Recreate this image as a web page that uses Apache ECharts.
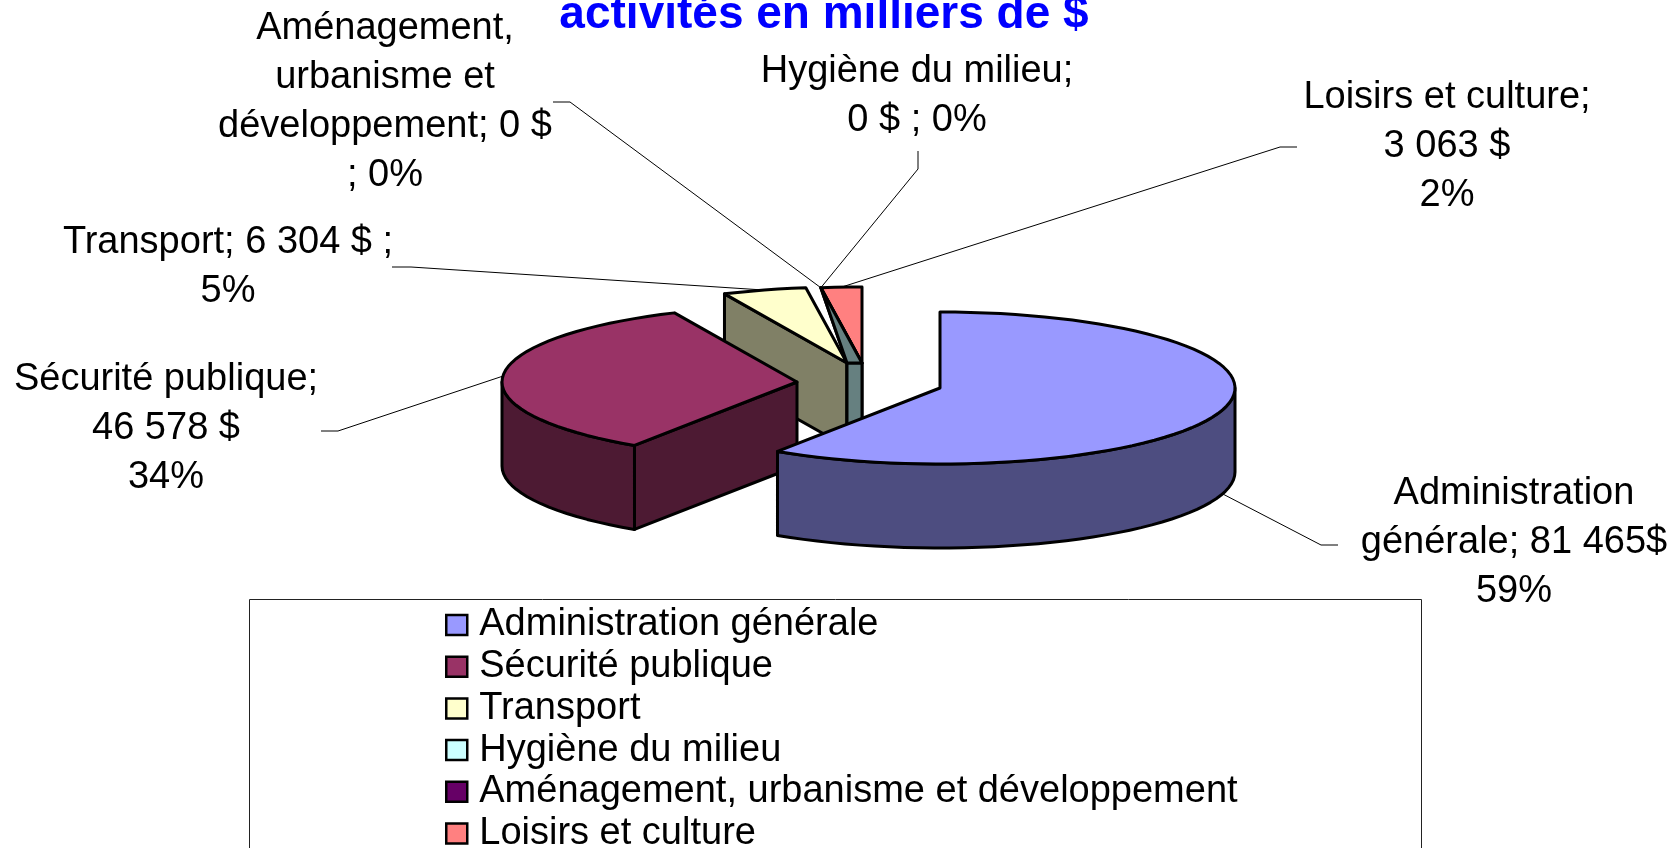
<!DOCTYPE html>
<html>
<head>
<meta charset="utf-8">
<style>
  html, body { margin: 0; height: 100%; background: #fff; overflow: hidden; }
  #chart { width: 1676px; height: 848px; }
</style>
<script src="https://cdn.jsdelivr.net/npm/echarts@6/dist/echarts.min.js"></script>
</head>
<body>
<div id="chart"></div>
<script>
const categories = ['Administration générale', 'Sécurité publique', 'Transport', 'Hygiène du milieu', 'Aménagement, urbanisme et développement', 'Loisirs et culture']
const amounts = [81465, 46578, 6304, 0, 0, 3063]
const dataLabels = [
  'Administration\ngénérale; 81 465$\n59%',
  'Sécurité publique;\n46 578 $\n34%',
  'Transport; 6 304 $ ;\n5%',
  'Hygiène du milieu;\n0 $ ; 0%',
  'Aménagement,\nurbanisme et\ndéveloppement; 0 $\n; 0%',
  'Loisirs et culture;\n3 063 $\n2%',
]
const topColors = ['#9999ff', '#993366', '#ffffcc', '#ccffff', '#660066', '#ff8080']
const wallColors = ['#4d4d80', '#4d1a33', '#808066', '#668080', '#330033', '#804040']

// exploded slice centres and label placement, in page pixels
const centers = [[940, 388], [797, 382], [847, 363], [854, 363], [854, 363], [862, 363]]
const labelAt = [[1514, 543], [166, 429], [228, 267], [917, 96], [385, 102], [1447, 147]]
const elbows = [
  [[1338, 545], [1321, 545]],
  [[321, 431], [338, 431]],
  [[392, 267], [411, 267]],
  [[918, 151], [918, 169]],
  [[553, 102], [570, 102]],
  [[1297, 147], [1280, 147]],
]
const rx = 295
const ry = 76
const depth = 84
const drawOrder = [5, 2, 4, 3, 1, 0]

const total = amounts.reduce((a, b) => a + b, 0)
const toRad = (deg) => (deg * Math.PI) / 180

const angleRange = (idx) => {
  let before = 0
  for (let i = 0; i < idx; i++) before += amounts[i]
  return [(before / total) * 360, ((before + amounts[idx]) / total) * 360]
}

const rimPoint = (c, deg) => [c[0] + rx * Math.sin(toRad(deg)), c[1] - ry * Math.cos(toRad(deg))]
const drop = (p) => [p[0], p[1] + depth]

const arcPoints = (c, from, to) => {
  const pts = []
  const steps = Math.max(1, Math.ceil((to - from) / 3))
  for (let i = 0; i <= steps; i++) pts.push(rimPoint(c, from + ((to - from) * i) / steps))
  return pts
}

const face = (points, fill) => ({
  type: 'polygon',
  shape: { points },
  style: { fill, stroke: '#000', lineWidth: 3, lineJoin: 'round' },
})

const sliceFaces = (idx) => {
  const [a0, a1] = angleRange(idx)
  const c = centers[idx]
  const out = []
  if (amounts[idx] === 0) {
    // empty slices only show as a sliver between the neighbouring wedges
    const prev = centers[2]
    const next = centers[5]
    const tip = rimPoint(next, a0)
    out.push(face([prev, next, drop(next), drop(prev)], wallColors[idx]))
    out.push(face([prev, tip, next], wallColors[idx]))
    return out
  }
  // the cut face after an empty slice stays behind that sliver
  if (a0 >= 180 && amounts[idx - 1] > 0) {
    const rim = rimPoint(c, a0)
    out.push(face([c, rim, drop(rim), drop(c)], wallColors[idx]))
  }
  const frontFrom = Math.max(a0, 90)
  const frontTo = Math.min(a1, 270)
  if (frontTo > frontFrom) {
    const arc = arcPoints(c, frontFrom, frontTo)
    out.push(face(arc.concat(arc.map(drop).reverse()), wallColors[idx]))
  }
  out.push(face([c].concat(arcPoints(c, a0, a1)), topColors[idx]))
  return out
}

const leaderEnd = (idx) => {
  const [a0, a1] = angleRange(idx)
  const mid = (a0 + a1) / 2
  const base = amounts[idx] === 0 ? centers[5] : centers[idx]
  const p = rimPoint(base, mid)
  return mid > 90 && mid < 270 ? drop(p) : p
}

const renderSlice = (idx) => () => ({
  type: 'group',
  children: [
    ...sliceFaces(idx),
    {
      type: 'polyline',
      shape: { points: [...elbows[idx], leaderEnd(idx)] },
      style: { fill: 'none', stroke: '#000', lineWidth: 1 },
    },
    {
      type: 'text',
      style: {
        text: dataLabels[idx],
        x: labelAt[idx][0],
        y: labelAt[idx][1],
        align: 'center',
        verticalAlign: 'middle',
        fill: '#000',
        font: '38px "Liberation Sans"',
        lineHeight: 49,
      },
    },
  ],
})

const chart = echarts.init(document.getElementById('chart'))
chart.setOption({
  animation: false,
  backgroundColor: '#fff',
  title: {
    text: 'activités en milliers de $',
    left: 824,
    textAlign: 'center',
    top: -8,
    padding: 0,
    textStyle: { color: '#0000ff', fontSize: 46, fontWeight: 'bold', fontFamily: 'Liberation Sans' },
  },
  legend: {
    data: categories,
    orient: 'vertical',
    left: 445,
    top: 606,
    height: 400,
    padding: 0,
    itemWidth: 21,
    itemHeight: 20,
    itemGap: 3.7,
    icon: 'rect',
    selectedMode: false,
    itemStyle: { borderColor: '#000', borderWidth: 2.5 },
    textStyle: { color: '#000', fontSize: 38, fontFamily: 'Liberation Sans', padding: [0, 0, 0, 7] },
  },
  graphic: [
    {
      type: 'rect',
      z: -1,
      shape: { x: 249.5, y: 599.5, width: 1172, height: 300 },
      style: { fill: 'none', stroke: '#222', lineWidth: 1 },
    },
  ],
  series: drawOrder.map((idx) => ({
    type: 'custom',
    name: categories[idx],
    coordinateSystem: 'none',
    itemStyle: { color: topColors[idx] },
    data: [[amounts[idx]]],
    renderItem: renderSlice(idx),
  })),
})
</script>
</body>
</html>
